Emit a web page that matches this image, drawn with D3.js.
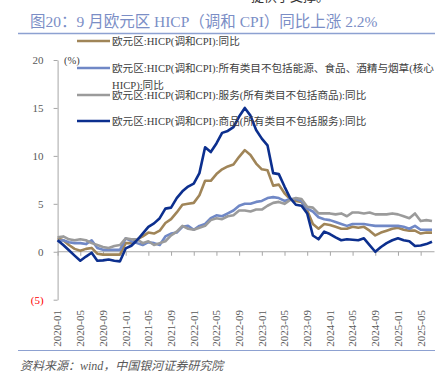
<!DOCTYPE html>
<html>
<head>
<meta charset="utf-8">
<script src="https://cdn.jsdelivr.net/npm/d3@7"></script>
<style>
  body { margin: 0; background: #fff; }
  svg { display: block; }
</style>
</head>
<body>
<script>
// months 2020-01 .. 2025-07
var months = [];
for (var yr = 2020; yr <= 2025; yr++) {
    for (var m = 1; m <= 12; m++) {
        if (yr == 2025 && m > 7) break;
        months.push(yr + "-" + (m < 10 ? "0" + m : m));
    }
}
var tickMonths = ["2020-01","2020-05","2020-09","2021-01","2021-05","2021-09","2022-01","2022-05","2022-09",
    "2023-01","2023-05","2023-09","2024-01","2024-05","2024-09","2025-01","2025-05"];
var yTicks = [-5, 0, 5, 10, 15, 20];

var seriesNames = [
    "欧元区:HICP(调和CPI):同比",
    "欧元区:HICP(调和CPI):所有类目不包括能源、食品、酒精与烟草(核心",
    "欧元区:HICP(调和CPI):服务(所有类目不包括商品):同比",
    "欧元区:HICP(调和CPI):商品(所有类目不包括服务):同比"
];
var seriesColors = ["#a08558", "#7088c6", "#9b9b9b", "#0c2f8e"];

var hicp = [1.4,1.2,0.7,0.3,0.1,0.3,0.4,-0.2,-0.3,-0.3,-0.3,-0.3,
    0.9,0.9,1.3,1.6,2.0,1.9,2.2,3.0,3.4,4.1,4.9,5.0,
    5.1,5.9,7.4,7.4,8.1,8.6,8.9,9.1,9.9,10.6,10.1,9.2,
    8.6,8.5,6.9,7.0,6.1,5.5,5.3,5.2,4.3,2.9,2.4,2.9,
    2.8,2.6,2.4,2.4,2.6,2.5,2.6,2.2,1.7,2.0,2.2,2.4,
    2.5,2.3,2.2,2.2,1.9,2.0,2.0];
var core = [1.1,1.2,1.0,0.9,0.9,0.8,1.2,0.4,0.2,0.2,0.2,0.2,
    1.4,1.1,0.9,0.7,1.0,0.9,0.7,1.6,1.9,2.0,2.6,2.7,
    2.3,2.7,2.9,3.5,3.8,3.7,4.0,4.3,4.8,5.0,5.0,5.2,
    5.3,5.6,5.7,5.6,5.3,5.5,5.5,5.3,4.5,4.2,3.6,3.4,
    3.3,3.1,2.9,2.7,2.9,2.9,2.9,2.8,2.7,2.7,2.7,2.7,
    2.7,2.6,2.4,2.7,2.3,2.3,2.3];
var services = [1.5,1.6,1.3,1.2,1.3,1.2,0.9,0.7,0.5,0.4,0.6,0.7,
    1.4,1.3,1.3,0.9,1.1,0.7,0.9,1.1,1.7,2.1,2.7,2.4,
    2.3,2.5,2.7,3.3,3.5,3.4,3.7,3.8,4.3,4.3,4.2,4.4,
    4.4,4.8,5.1,5.2,5.0,5.4,5.6,5.5,4.7,4.6,4.0,4.0,
    4.0,3.9,4.0,3.7,4.1,4.1,4.0,4.1,3.9,3.9,3.9,4.0,
    3.9,3.7,3.5,4.0,3.2,3.3,3.2];
var goods = [1.2,0.7,0.15,-0.4,-0.93,-0.5,-0.1,-0.93,-0.9,-0.8,-0.93,-1.0,
    0.35,0.63,1.2,1.9,2.6,2.96,3.5,4.5,4.6,5.6,6.3,6.8,
    7.1,8.2,10.9,10.4,11.3,12.4,12.6,13.0,14.1,15.0,14.2,12.7,
    11.8,11.1,8.2,8.1,6.8,5.6,4.9,4.8,4.0,1.7,1.3,2.1,
    1.85,1.5,1.2,1.3,1.25,1.2,1.4,0.7,0.0,0.5,0.9,1.2,
    1.4,1.2,1.1,0.6,0.65,0.8,1.05];
var allSeries = [hicp, core, services, goods];

var width = 448, height = 376;
var svg = d3.select("body").append("svg")
    .attr("width", width)
    .attr("height", height);

var serif = "'Liberation Serif','Noto Sans CJK SC',serif";

// bottom of the previous paragraph, cut by the page edge
svg.append("text")
    .attr("x", 290).attr("y", 1)
    .attr("text-anchor", "middle")
    .style("font-family", serif).style("font-size", "13px").style("fill", "#333")
    .text("提供了支撑。");

// title
svg.append("text")
    .attr("x", 30).attr("y", 27)
    .style("font-family", serif).style("font-size", "15.5px").style("fill", "#7b8ec6")
    .text("图20：9 月欧元区 HICP（调和 CPI）同比上涨 2.2%");
svg.append("line")
    .attr("x1", 18).attr("x2", 435).attr("y1", 33.5).attr("y2", 33.5)
    .style("stroke", "#8da1d1").style("stroke-width", 1.5);

// scales
var xScale = d3.scalePoint()
    .domain(months)
    .range([57.6, 432]);
var yScale = d3.scaleLinear()
    .domain([-5, 20])
    .range([299.7, 60]);

// y axis
var yAxis = d3.axisLeft(yScale)
    .tickValues(yTicks)
    .tickSize(4)
    .tickSizeOuter(0)
    .tickFormat(function (d) { return d < 0 ? "(" + Math.abs(d) + ")" : d; });
var yAxisGroup = svg.append("g")
    .attr("class", "y axis")
    .attr("transform", "translate(57.6,0)")
    .call(yAxis);
yAxisGroup.select(".domain").style("stroke", "#a6a6a6");
yAxisGroup.selectAll(".tick line").style("stroke", "#a6a6a6");
yAxisGroup.selectAll(".tick text")
    .attr("x", -14)
    .style("font-family", serif).style("font-size", "11px")
    .style("fill", function (d) { return d < 0 ? "#ff0000" : "#595959"; });

// x axis at zero
var xAxis = d3.axisBottom(xScale)
    .tickValues(tickMonths)
    .tickSize(4)
    .tickSizeOuter(0)
    .tickFormat("");
var xAxisGroup = svg.append("g")
    .attr("class", "x axis")
    .attr("transform", "translate(0," + yScale(0) + ")")
    .call(xAxis);
xAxisGroup.select(".domain").remove();
xAxisGroup.append("line")
    .attr("x1", xScale(months[0])).attr("x2", xScale(months[months.length - 1]) + 2.5)
    .style("stroke", "#a6a6a6");
xAxisGroup.selectAll(".tick line").style("stroke", "#a6a6a6");

// x tick labels at the bottom
svg.append("g").selectAll("text")
    .data(tickMonths)
    .enter().append("text")
    .attr("transform", function (d) { return "translate(" + xScale(d) + ",310) rotate(-90)"; })
    .attr("text-anchor", "end")
    .attr("dy", "0.35em")
    .style("font-family", serif).style("font-size", "11px").style("fill", "#595959")
    .text(function (d) { return d; });

// unit
svg.append("text")
    .attr("x", 64).attr("y", 64)
    .style("font-family", serif).style("font-size", "10.5px").style("fill", "#404040")
    .text("(%)");

// lines
var line = d3.line()
    .x(function (d, i) { return xScale(months[i]); })
    .y(function (d) { return yScale(d); });

allSeries.forEach(function (s, k) {
    svg.append("path")
        .datum(s)
        .attr("d", line)
        .style("fill", "none")
        .style("stroke", seriesColors[k])
        .style("stroke-width", 2.6)
        .style("stroke-linejoin", "round");
});

// legend
var legendY = [41, 68, 95, 121];
seriesNames.forEach(function (name, k) {
    svg.append("line")
        .attr("x1", 77).attr("x2", 110)
        .attr("y1", legendY[k]).attr("y2", legendY[k])
        .style("stroke", seriesColors[k]).style("stroke-width", 2.6);
    svg.append("text")
        .attr("x", 112).attr("y", legendY[k] + 3.7)
        .style("font-family", serif).style("font-size", "10.6px").style("fill", "#404040")
        .text(name);
});
svg.append("text")
    .attr("x", 112).attr("y", 88.5)
    .style("font-family", serif).style("font-size", "10.6px").style("fill", "#404040")
    .text("HICP):同比");

// source
svg.append("line")
    .attr("x1", 18).attr("x2", 435).attr("y1", 350.5).attr("y2", 350.5)
    .style("stroke", "#8da1d1").style("stroke-width", 1.2);
svg.append("text")
    .attr("x", 20).attr("y", 370)
    .style("font-family", serif).style("font-size", "12px").style("font-style", "italic").style("fill", "#595959")
    .text("资料来源：wind，中国银河证券研究院");
</script>
</body>
</html>
